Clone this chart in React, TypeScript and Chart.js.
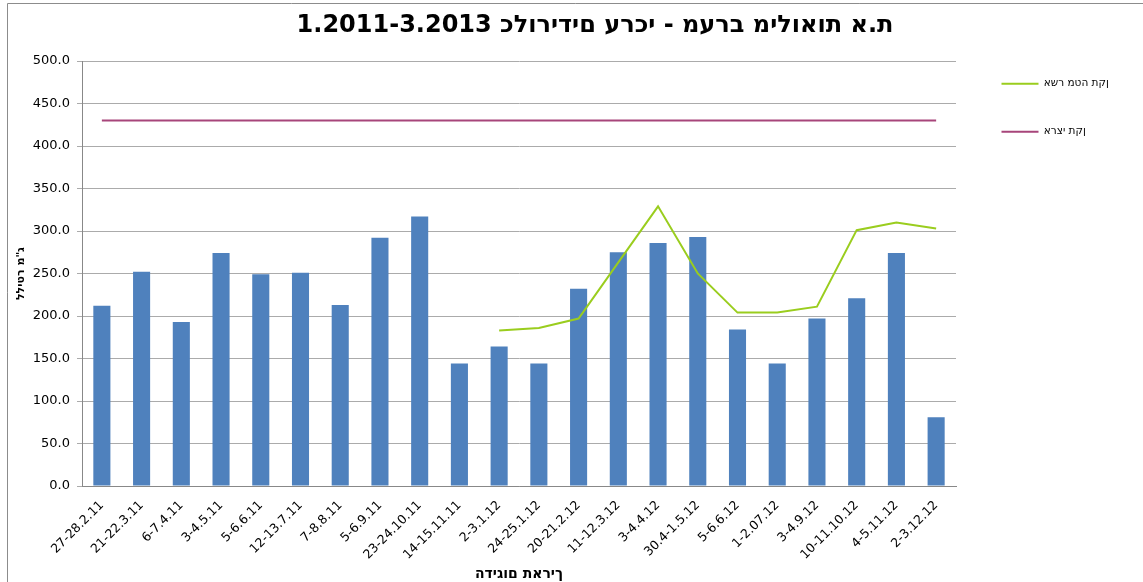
import { useEffect, useRef } from 'react';
import { Chart, registerables } from 'chart.js';

Chart.register(...registerables);

const chartTitle = 'א.ת מילואות מערב - ערכי כלורידים 1.2011-3.2013';
const xAxisTitle = 'תאריך הדיגום';
const yAxisTitle = 'מ"ג לליטר';

const categories = [
  '27-28.2.11', '21-22.3.11', '6-7.4.11', '3-4.5.11', '5-6.6.11', '12-13.7.11',
  '7-8.8.11', '5-6.9.11', '23-24.10.11', '14-15.11.11', '2-3.1.12', '24-25.1.12',
  '20-21.2.12', '11-12.3.12', '3-4.4.12', '30.4-1.5.12', '5-6.6.12', '1-2.07.12',
  '3-4.9.12', '10-11.10.12', '4-5.11.12', '2-3.12.12',
];

const chlorideLabel = 'ערכי כלורידים';
const chlorideValues = [
  212, 252, 193, 274, 249, 251, 213, 292, 317, 144, 164,
  144, 232, 275, 286, 293, 184, 144, 197, 221, 274, 81,
];

const asherLabel = 'תקן מטה אשר';
const asherValues = [
  null, null, null, null, null, null, null, null, null, null, 183,
  186, 197, 263, 329, 250, 204, 204, 211, 301, 310, 303,
];

const nationalLabel = 'תקן ארצי';
const nationalValues = [
  430, 430, 430, 430, 430, 430, 430, 430, 430, 430, 430,
  430, 430, 430, 430, 430, 430, 430, 430, 430, 430, 430,
];

const yMin = 0;
const yMax = 500;
const yStep = 50;

const FONT = 'DejaVu Sans';

// This page's text engine orders the words of right-to-left text correctly
// but lays the letters inside each Hebrew word left-to-right, so the letters
// of each Hebrew word are flipped for display (word order stays logical).
function forDisplay(s: string): string {
  return s
    .split(' ')
    .map((w) => (/[\u0590-\u05FF]/.test(w) ? Array.from(w).reverse().join('') : w))
    .join(' ');
}

export default function App() {
  const ref = useRef<HTMLCanvasElement>(null);

  useEffect(() => {
    document.body.style.margin = '0';
    const canvas = ref.current;
    if (!canvas) return;

    const framePlugin = {
      id: 'frame',
      beforeDraw(chart: any) {
        const c = chart.ctx;
        c.save();
        c.fillStyle = '#ffffff';
        c.fillRect(0, 0, chart.width, chart.height);
        c.strokeStyle = '#8c8c8c';
        c.lineWidth = 1;
        c.beginPath();
        c.moveTo(7.5, chart.height);
        c.lineTo(7.5, 3.5);
        c.lineTo(chart.width, 3.5);
        c.stroke();
        c.restore();
      },
      afterLayout(chart: any) {
        const tb = chart.titleBlock;
        if (tb) {
          tb.left = 595 - 420;
          tb.right = 595 + 420;
        }
        const lg = chart.legend;
        if (lg) {
          lg.left = 964;
          lg.right = chart.width;
          lg.top = 41;
          lg.bottom = chart.height;
        }
      },
    };

    const defaultLabels = Chart.defaults.plugins.legend.labels.generateLabels;

    const chart = new Chart(canvas, {
      type: 'bar',
      data: {
        labels: categories,
        datasets: [
          {
            type: 'bar',
            label: chlorideLabel,
            data: chlorideValues,
            backgroundColor: '#4F81BD',
            borderWidth: 0,
            barPercentage: 0.43,
            categoryPercentage: 1.0,
            order: 3,
          },
          {
            type: 'line',
            label: asherLabel,
            data: asherValues as any,
            borderColor: '#9ACD1E',
            backgroundColor: '#9ACD1E',
            borderWidth: 2,
            pointRadius: 0,
            pointStyle: 'line',
            tension: 0,
            order: 1,
          },
          {
            type: 'line',
            label: nationalLabel,
            data: nationalValues,
            borderColor: '#A7457A',
            backgroundColor: '#A7457A',
            borderWidth: 2,
            pointRadius: 0,
            pointStyle: 'line',
            tension: 0,
            order: 2,
          },
        ],
      },
      options: {
        responsive: false,
        animation: false,
        layout: { padding: { left: 0, right: 187, top: 0, bottom: 0 } },
        plugins: {
          title: {
            display: true,
            text: forDisplay(chartTitle),
            color: '#000000',
            font: { family: FONT, size: 24, weight: 'bold' },
            padding: { top: 11, bottom: 21.2 },
          },
          legend: {
            display: true,
            position: 'chartArea' as any,
            align: 'start',
            labels: {
              usePointStyle: true,
              pointStyle: 'line',
              pointStyleWidth: 37,
              padding: 37.5,
              color: '#000000',
              font: { family: FONT, size: 10.5 },
              generateLabels: (ch: any) =>
                defaultLabels(ch).map((it: any) => ({ ...it, text: forDisplay(it.text) })),
              filter: (item: any) => item.datasetIndex !== 0,
            },
          },
          tooltip: { enabled: false },
        },
        scales: {
          x: {
            offset: true,
            grid: { display: false },
            border: { display: true, color: '#888888' },
            ticks: {
              autoSkip: false,
              maxRotation: 45,
              minRotation: 45,
              padding: 4,
              color: '#000000',
              font: { family: FONT, size: 12.5 },
            },
            title: {
              display: true,
              text: forDisplay(xAxisTitle),
              color: '#000000',
              font: { family: FONT, size: 14, weight: 'bold' },
              padding: { top: 0, bottom: -1 },
            },
            afterFit: (s: any) => {
              s.height = 96;
            },
          },
          y: {
            min: yMin,
            max: yMax,
            ticks: {
              stepSize: yStep,
              padding: 7,
              color: '#000000',
              font: { family: FONT, size: 13 },
              callback: (v: any) => Number(v).toFixed(1),
            },
            grid: { color: '#ABABAB', tickLength: 5 },
            border: { color: '#888888' },
            title: {
              display: true,
              text: forDisplay(yAxisTitle),
              color: '#000000',
              font: { family: FONT, size: 11, weight: 'bold' },
              padding: { top: 15, bottom: 0 },
            },
            afterFit: (s: any) => {
              s.width = 82;
            },
          },
        },
      },
      plugins: [framePlugin],
    });

    return () => chart.destroy();
  }, []);

  return (
    <div style={{ width: 1143, height: 582 }}>
      <canvas ref={ref} width={1143} height={582} style={{ display: 'block', direction: 'rtl' }} />
    </div>
  );
}
